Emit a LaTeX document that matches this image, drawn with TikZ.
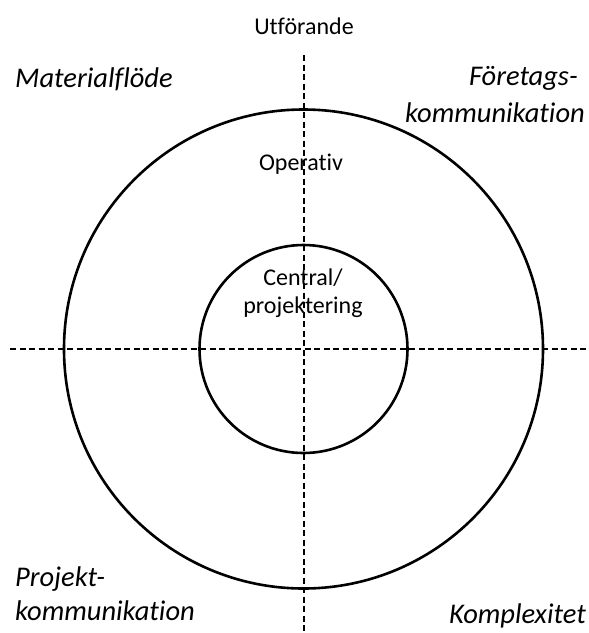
\documentclass[tikz,border=0pt]{standalone}
\usepackage{fontspec}
\setmainfont{Carlito}[Ligatures=NoCommon]
\begin{document}
\begin{tikzpicture}[x=1pt,y=-1pt,
  axis/.style={line width=2.6pt,dash pattern=on 6pt off 3.5pt},
  ring/.style={line width=2.6pt},
  lbl/.style={inner sep=0pt,font=\fontsize{24}{29}\selectfont},
  corner/.style={inner sep=0pt,font=\fontsize{28.5}{34}\selectfont\itshape}]
\useasboundingbox (0,0) rectangle (589,633);
\coordinate (vtop) at (304,55);
\coordinate (vbot) at (304,633);
\coordinate (hl) at (10,349);
\coordinate (hr) at (589,349);
\coordinate (c) at (303.5,349);
\draw[ring] (c) circle[radius=239.5];
\draw[ring] (c) circle[radius=104];
\draw[axis] (vtop) -- (vbot);
\draw[axis] (hl) -- (hr);
\node[lbl,anchor=base] (utf) at (304,34) {Utförande};
\node[lbl,anchor=base] (op) at (301,170) {Operativ};
\node[lbl,anchor=base] (cen) at (303,285) {Central/};
\node[lbl,anchor=base] (proj) at (303,313) {projektering};
\node[corner,anchor=base west] (mat) at (15,87) {Materialflöde};
\node[corner,anchor=base east] (fo1) at (578,85) {Företags-};
\node[corner,anchor=base east] (fo2) at (585,122) {kommunikation};
\node[corner,anchor=base west] (pk1) at (15,586) {Projekt-};
\node[corner,anchor=base west] (pk2) at (15,620) {kommunikation};
\node[corner,anchor=base east] (kom) at (586,623) {Komplexitet};
\end{tikzpicture}
\end{document}
